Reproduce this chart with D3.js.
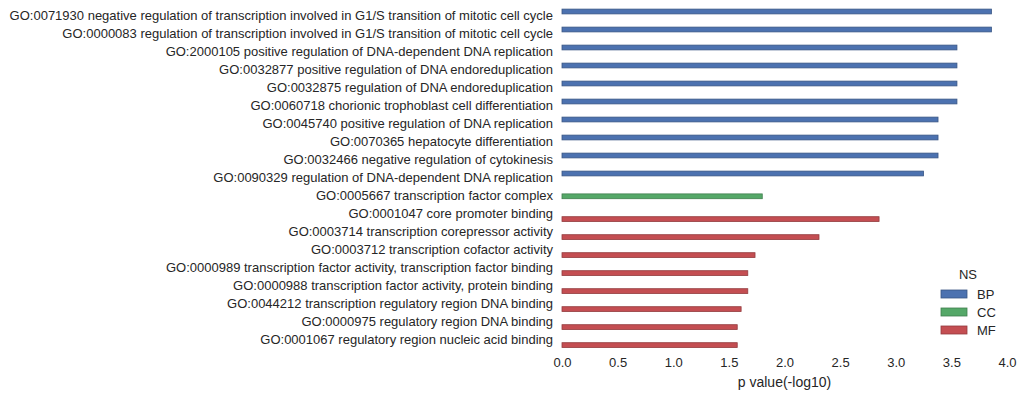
<!DOCTYPE html>
<html>
<head>
<meta charset="utf-8">
<script src="https://cdn.jsdelivr.net/npm/d3@7"></script>
<style>
    body { margin: 0; background: #fff; }
    text { font-family: "Liberation Sans", Arial, sans-serif; fill: #262626; }
</style>
</head>
<body>
<svg id="chart"></svg>
<script>
"use strict";

// Chart dimensions
const width = 1024;
const height = 397;

// Data
const terms = [
    "GO:0071930 negative regulation of transcription involved in G1/S transition of mitotic cell cycle",
    "GO:0000083 regulation of transcription involved in G1/S transition of mitotic cell cycle",
    "GO:2000105 positive regulation of DNA-dependent DNA replication",
    "GO:0032877 positive regulation of DNA endoreduplication",
    "GO:0032875 regulation of DNA endoreduplication",
    "GO:0060718 chorionic trophoblast cell differentiation",
    "GO:0045740 positive regulation of DNA replication",
    "GO:0070365 hepatocyte differentiation",
    "GO:0032466 negative regulation of cytokinesis",
    "GO:0090329 regulation of DNA-dependent DNA replication",
    "GO:0005667 transcription factor complex",
    "GO:0001047 core promoter binding",
    "GO:0003714 transcription corepressor activity",
    "GO:0003712 transcription cofactor activity",
    "GO:0000989 transcription factor activity, transcription factor binding",
    "GO:0000988 transcription factor activity, protein binding",
    "GO:0044212 transcription regulatory region DNA binding",
    "GO:0000975 regulatory region DNA binding",
    "GO:0001067 regulatory region nucleic acid binding"
];
const namespaces = ["BP", "BP", "BP", "BP", "BP", "BP", "BP", "BP", "BP", "BP",
    "CC", "MF", "MF", "MF", "MF", "MF", "MF", "MF", "MF"];
const pValues = [3.86, 3.86, 3.55, 3.55, 3.55, 3.55, 3.38, 3.38, 3.38, 3.25,
    1.80, 2.85, 2.31, 1.735, 1.67, 1.67, 1.61, 1.575, 1.575];
const nsList = ["BP", "CC", "MF"];
const nsColors = ["#4c72b0", "#55a868", "#c44e52"];
const xTicks = [0, 0.5, 1, 1.5, 2, 2.5, 3, 3.5, 4];

const svg = d3.select("#chart")
    .attr("width", width)
    .attr("height", height);

// Scales
const xScale = d3.scaleLinear().domain([0, 4]).range([562, 1007]);
const yScale = d3.scaleBand().domain(terms).range([7.3, 349.3]);
const hueScale = d3.scaleBand().domain(nsList)
    .range([yScale.bandwidth() * 0.1, yScale.bandwidth() * 0.9]);
const colorScale = d3.scaleOrdinal().domain(nsList).range(nsColors);

// Bars
svg.append("g")
    .selectAll("rect")
    .data(terms)
    .join("rect")
        .attr("x", xScale(0))
        .attr("y", (d, i) => yScale(d) + hueScale(namespaces[i]))
        .attr("width", (d, i) => xScale(pValues[i]) - xScale(0))
        .attr("height", hueScale.bandwidth())
        .attr("fill", (d, i) => colorScale(namespaces[i]))
        .attr("stroke", (d, i) => d3.color(colorScale(namespaces[i])).darker(0.8))
        .attr("stroke-width", 0.8);

// Y axis (labels only)
const yAxis = svg.append("g")
    .attr("transform", `translate(${xScale(0)},0)`)
    .call(d3.axisLeft(yScale).tickSize(0).tickPadding(9));
yAxis.select(".domain").remove();
yAxis.selectAll("text").style("font-size", "13px");

// X axis
const xAxis = svg.append("g")
    .attr("transform", `translate(0,${yScale.range()[1]})`)
    .call(d3.axisBottom(xScale).tickValues(xTicks).tickFormat(d3.format(".1f")).tickSize(0).tickPadding(8));
xAxis.select(".domain").remove();
xAxis.selectAll("text").style("font-size", "13px");

svg.append("text")
    .attr("x", (xScale.range()[0] + xScale.range()[1]) / 2)
    .attr("y", 387)
    .attr("text-anchor", "middle")
    .style("font-size", "14px")
    .text("p value(-log10)");

// Legend
const legend = svg.append("g").attr("transform", "translate(941,0)");
legend.append("text")
    .attr("x", 27)
    .attr("y", 279)
    .attr("text-anchor", "middle")
    .style("font-size", "13px")
    .text("NS");

const items = legend.selectAll("g.item")
    .data(nsList)
    .join("g")
        .attr("class", "item")
        .attr("transform", (d, i) => `translate(0,${290 + i * 18})`);
items.append("rect")
    .attr("width", 26)
    .attr("height", 8)
    .attr("fill", d => colorScale(d))
    .attr("stroke", d => d3.color(colorScale(d)).darker(0.8))
    .attr("stroke-width", 0.8);
items.append("text")
    .attr("x", 36)
    .attr("y", 4)
    .attr("dy", "0.35em")
    .style("font-size", "13px")
    .text(d => d);
</script>
</body>
</html>
